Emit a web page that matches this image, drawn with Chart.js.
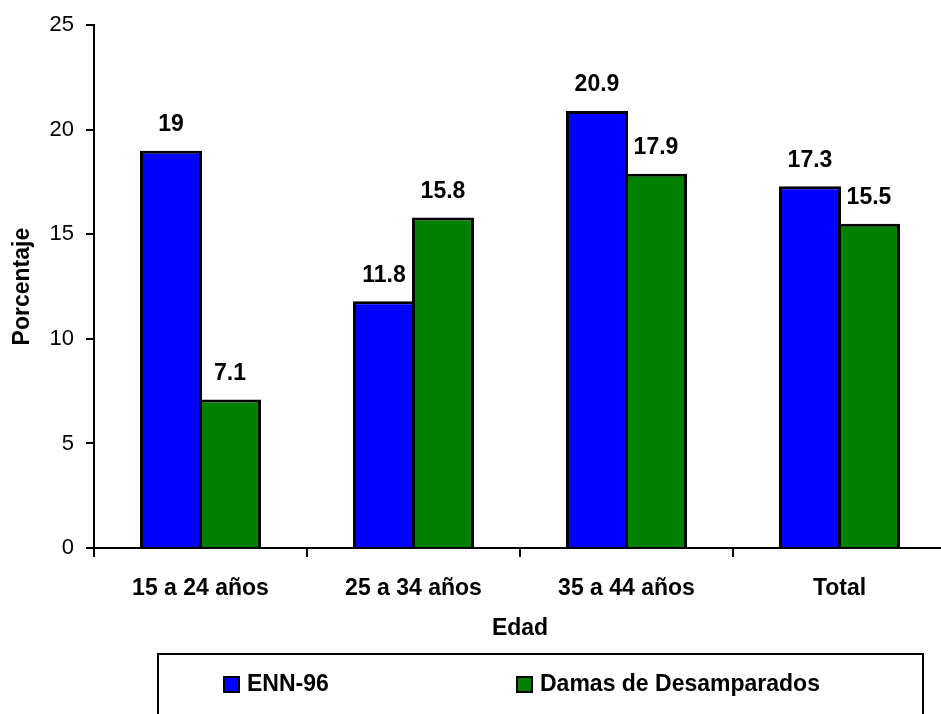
<!DOCTYPE html>
<html>
<head>
<meta charset="utf-8">
<script src="https://cdn.jsdelivr.net/npm/chart.js"></script>
<style>
  html, body { margin: 0; padding: 0; background: #fff; overflow: hidden; }
  #wrap { position: absolute; left: 0; top: 0; width: 960px; height: 714px; }
</style>
</head>
<body>
<div id="wrap"><canvas id="chart-1" width="960" height="714"></canvas></div>
<script>
// Data
const categories = ['15 a 24 años', '25 a 34 años', '35 a 44 años', 'Total'];
const ennValues = [19, 11.8, 20.9, 17.3];
const damasValues = [7.1, 15.8, 17.9, 15.5];
const seriesNames = ['ENN-96', 'Damas de Desamparados'];
const yTicks = [0, 5, 10, 15, 20, 25];

const FONT = "'Liberation Sans', Arial, sans-serif";

// Value labels above every bar
const valueLabels = {
  id: 'valueLabels',
  afterDatasetsDraw(chart) {
    const ctx = chart.ctx;
    ctx.save();
    ctx.font = 'bold 23px ' + FONT;
    ctx.fillStyle = '#000';
    ctx.textAlign = 'center';
    ctx.textBaseline = 'middle';
    chart.data.datasets.forEach((ds, i) => {
      chart.getDatasetMeta(i).data.forEach((bar, j) => {
        ctx.fillText(String(ds.data[j]), bar.x, bar.y - 26);
      });
    });
    ctx.restore();
  }
};

// Boxed legend under the axis title
const boxedLegend = {
  id: 'boxedLegend',
  afterDraw(chart) {
    const ctx = chart.ctx;
    const itemX = [224, 517];
    ctx.save();
    ctx.strokeStyle = '#000';
    ctx.lineWidth = 2;
    ctx.strokeRect(158, 654, 765, 80);
    ctx.font = 'bold 23px ' + FONT;
    ctx.textBaseline = 'middle';
    ctx.textAlign = 'left';
    chart.data.datasets.forEach((ds, i) => {
      const x = itemX[i];
      ctx.fillStyle = ds.backgroundColor;
      ctx.fillRect(x, 677, 15, 15);
      ctx.lineWidth = 2;
      ctx.strokeStyle = '#000';
      ctx.strokeRect(x, 677, 15, 15);
      ctx.fillStyle = '#000';
      ctx.fillText(ds.label, x + 23, 685);
    });
    ctx.restore();
  }
};

new Chart(document.getElementById('chart-1'), {
  type: 'bar',
  data: {
    labels: categories,
    datasets: [
      {
        label: seriesNames[0],
        data: ennValues,
        backgroundColor: '#0000ff',
        borderColor: '#000',
        borderWidth: 3
      },
      {
        label: seriesNames[1],
        data: damasValues,
        backgroundColor: '#008000',
        borderColor: '#000',
        borderWidth: 3
      }
    ]
  },
  options: {
    responsive: false,
    animation: false,
    categoryPercentage: 0.554,
    barPercentage: 1.0508,
    layout: { padding: { left: 0, right: 14, top: 23, bottom: 72 } },
    plugins: {
      legend: { display: false },
      tooltip: { enabled: false }
    },
    scales: {
      x: {
        grid: {
          display: true,
          drawOnChartArea: false,
          drawTicks: true,
          tickLength: 9,
          color: '#000',
          lineWidth: 2,
          offset: true
        },
        border: { color: '#000', width: 2 },
        ticks: {
          color: '#000',
          padding: 18,
          font: { family: FONT, size: 23, weight: 'bold' }
        },
        title: {
          display: true,
          text: 'Edad',
          color: '#000',
          padding: { top: 0, bottom: 0 },
          font: { family: FONT, size: 23, weight: 'bold' }
        },
        afterFit(scale) { scale.height = 94; }
      },
      y: {
        min: 0,
        max: 25,
        afterBuildTicks(scale) { scale.ticks = yTicks.map(v => ({ value: v })); },
        grid: {
          display: true,
          drawOnChartArea: false,
          drawTicks: true,
          tickLength: 8,
          color: '#000',
          lineWidth: 2
        },
        border: { color: '#000', width: 2 },
        ticks: {
          color: '#000',
          padding: 12,
          font: { family: FONT, size: 22 }
        },
        title: {
          display: true,
          text: 'Porcentaje',
          color: '#000',
          padding: { top: 9, bottom: 0 },
          font: { family: FONT, size: 23, weight: 'bold' }
        },
        afterFit(scale) { scale.width = 94; }
      }
    }
  },
  plugins: [valueLabels, boxedLegend]
});
</script>
</body>
</html>
